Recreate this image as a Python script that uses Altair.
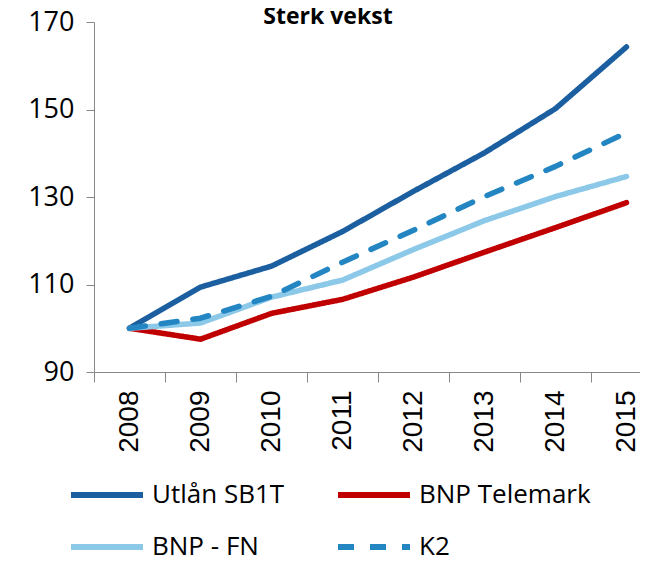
import altair as alt
import pandas as pd

title_text = "Sterk vekst"
years = ["2008", "2009", "2010", "2011", "2012", "2013", "2014", "2015"]
series_names = ["Utlån SB1T", "BNP Telemark", "BNP - FN", "K2"]
utlan_sb1t = [100, 109.4, 114.2, 122.1, 131.3, 140.1, 150.2, 164.3]
bnp_telemark = [100, 97.5, 103.4, 106.6, 111.7, 117.4, 123.0, 128.7]
bnp_fn = [100, 101.2, 107.1, 111.0, 118.0, 124.6, 130.1, 134.7]
k2 = [100, 102.3, 107.3, 115.1, 122.4, 130.1, 137.0, 144.7]
colors = ["#1b5fa0", "#c00000", "#8cc9e8", "#2386c3"]
dashes = [[1, 0], [1, 0], [1, 0], [16, 16]]
y_ticks = [90, 110, 130, 150, 170]

rows = []
for name, vals in zip(series_names, [utlan_sb1t, bnp_telemark, bnp_fn, k2]):
    for yr, v in zip(years, vals):
        rows.append({"year": yr, "series": name, "value": v})
df = pd.DataFrame(rows)

legend_opts = dict(title=None, orient="none", legendX=-26, legendY=434,
                   direction="horizontal", columns=2, symbolType="stroke",
                   symbolSize=5184, symbolStrokeWidth=6, labelFont="Open Sans",
                   labelFontSize=26, labelColor="black", labelOffset=6,
                   columnPadding=41, rowPadding=-22, labelLimit=400)

lines = alt.Chart(df).mark_line(strokeWidth=5.5, strokeCap="round", strokeJoin="round").encode(
    x=alt.X("year:O", sort=years, bandPosition=0.5,
            scale=alt.Scale(type="band", paddingInner=0, paddingOuter=0, range=[0, 568]),
            axis=alt.Axis(title=None, tickBand="extent", labelAngle=270, labelFont="Liberation Sans",
                          labelFontSize=28, labelColor="black", labelPadding=8, tickSize=10,
                          domainColor="#888888", tickColor="#888888", grid=False)),
    y=alt.Y("value:Q", scale=alt.Scale(domain=[90, 170], nice=False, zero=False),
            axis=alt.Axis(title=None, values=y_ticks, labelFont="Open Sans", labelFontSize=27,
                          labelColor="black", labelPadding=12, tickSize=8,
                          domainColor="#888888", tickColor="#888888", grid=False)),
    color=alt.Color("series:N", sort=series_names,
                    scale=alt.Scale(domain=series_names, range=colors),
                    legend=alt.Legend(**legend_opts)),
    strokeDash=alt.StrokeDash("series:N", sort=series_names,
                              scale=alt.Scale(domain=series_names, range=dashes),
                              legend=alt.Legend(**legend_opts)),
)

title = alt.Chart(pd.DataFrame({"t": [title_text]})).mark_text(
    font="Open Sans", fontSize=23, fontWeight="bold", color="black",
    align="center", baseline="alphabetic"
).encode(text="t:N", x=alt.value(234), y=alt.value(2))

chart = alt.layer(lines, title).properties(
    width=546, height=350,
    autosize=alt.AutoSizeParams(type="none"),
    padding={"left": 86, "top": 14, "right": 0, "bottom": 186},
).configure_view(stroke=None)

chart.save("out.html", embed_options={"renderer": "svg", "actions": False})
